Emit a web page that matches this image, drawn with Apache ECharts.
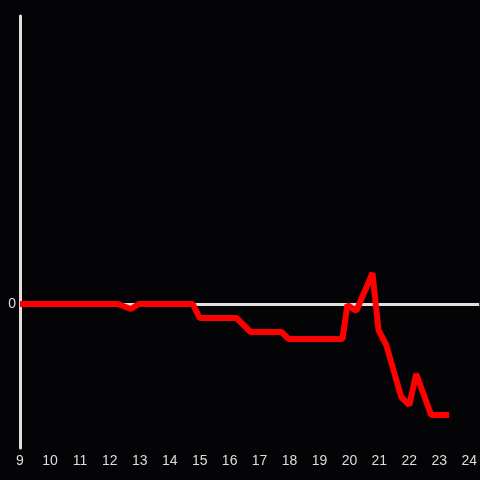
<!DOCTYPE html>
<html>
<head>
<meta charset="utf-8">
<script src="https://cdn.jsdelivr.net/npm/echarts@6/dist/echarts.min.js"></script>
<style>
html, body { margin: 0; padding: 0; background: #040306; }
#main { width: 480px; height: 480px; }
</style>
</head>
<body>
<div id="main"></div>
<script>
// hour of day and value
var hours = [9.0, 12.27, 12.7, 12.97, 14.77, 15.0, 16.23, 16.7, 17.73, 17.97, 19.77, 19.93, 20.23, 20.77, 20.97, 21.23, 21.73, 22.0, 22.23, 22.73, 23.33];
var values = [0, 0, -5, 0, 0, -14, -14, -28, -28, -35, -35, -1, -7, 31, -26, -41, -93, -101, -70, -111, -111];
var xTicks = [9, 24];

var points = [];
for (var i = 0; i < hours.length; i++) {
	points.push([hours[i], values[i]]);
}

var myChart = echarts.init(document.getElementById('main'));
var option = {
	backgroundColor: '#040306',
	animation: false,
	grid: {
		left: 20,
		right: 0,
		top: 16,
		bottom: 32
	},
	xAxis: {
		type: 'value',
		min: xTicks[0],
		max: xTicks[1] + 1 / 3,
		interval: 1,
		axisLine: { show: false },
		axisTick: { show: false },
		splitLine: { show: false },
		axisLabel: {
			color: '#dddddd',
			fontSize: 14,
			margin: 6,
			showMaxLabel: false,
			formatter: function (v) {
				return v <= xTicks[1] ? String(v) : '';
			}
		}
	},
	yAxis: {
		type: 'value',
		min: -144,
		max: 288,
		interval: 144,
		axisLine: {
			show: true,
			onZero: false,
			lineStyle: { color: '#e0e0e0', width: 3 }
		},
		axisTick: { show: false },
		splitLine: { show: false },
		axisLabel: {
			color: '#dddddd',
			fontSize: 14,
			margin: 4,
			formatter: function (v) {
				return v === 0 ? '0' : '';
			}
		}
	},
	series: [{
		type: 'line',
		data: points,
		showSymbol: false,
		lineStyle: { color: '#ff0000', width: 6 },
		itemStyle: { color: '#ff0000' },
		z: 3,
		markLine: {
			silent: true,
			symbol: 'none',
			label: { show: false },
			lineStyle: { color: '#e0e0e0', width: 3, type: 'solid' },
			data: [{ yAxis: 0 }],
			z: 1
		}
	}]
};
myChart.setOption(option);
</script>
</body>
</html>
